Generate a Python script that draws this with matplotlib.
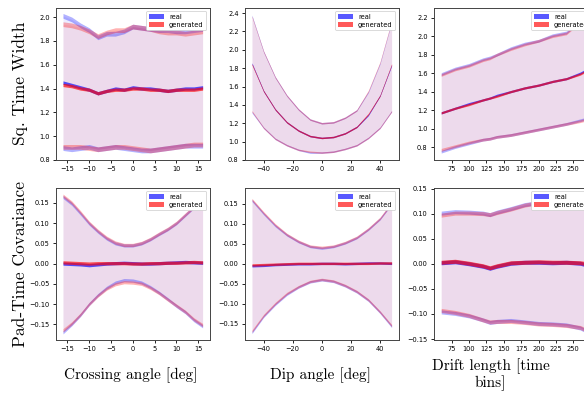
import numpy as np
import matplotlib
matplotlib.use("Agg")
import matplotlib.pyplot as plt

# ---- data: crossing angle ----
cross_x = [-16, -14, -12, -10, -8, -6, -4, -2, 0, 2, 4, 6, 8, 10, 12, 14, 16]
# Sq. time width
tw_cross_mean_real = [1.45, 1.43, 1.41, 1.39, 1.36, 1.38, 1.40, 1.39, 1.41, 1.40, 1.40, 1.39, 1.38, 1.39, 1.40, 1.40, 1.41]
tw_cross_mean_gen = [1.43, 1.42, 1.40, 1.39, 1.36, 1.38, 1.39, 1.39, 1.40, 1.40, 1.39, 1.39, 1.38, 1.39, 1.39, 1.39, 1.40]
tw_cross_up_real = [2.01, 1.98, 1.93, 1.89, 1.83, 1.86, 1.86, 1.88, 1.92, 1.91, 1.90, 1.89, 1.89, 1.88, 1.88, 1.89, 1.90]
tw_cross_up_gen = [1.94, 1.93, 1.91, 1.88, 1.84, 1.87, 1.89, 1.89, 1.92, 1.91, 1.90, 1.88, 1.87, 1.87, 1.86, 1.87, 1.88]
tw_cross_lo_real = [0.90, 0.89, 0.90, 0.91, 0.89, 0.90, 0.91, 0.90, 0.89, 0.88, 0.88, 0.89, 0.90, 0.91, 0.92, 0.92, 0.92]
tw_cross_lo_gen = [0.91, 0.91, 0.91, 0.90, 0.89, 0.90, 0.91, 0.91, 0.90, 0.89, 0.88, 0.89, 0.90, 0.91, 0.92, 0.93, 0.93]
# pad-time covariance
cv_cross_mean_real = [0.000, -0.001, -0.002, -0.004, -0.002, 0.000, 0.001, 0.002, 0.001, 0.000, 0.000, 0.001, 0.002, 0.003, 0.004, 0.003, 0.002]
cv_cross_mean_gen = [0.003, 0.002, 0.001, 0.000, 0.001, 0.001, 0.001, 0.001, 0.000, 0.000, 0.001, 0.001, 0.002, 0.002, 0.003, 0.004, 0.003]
cv_cross_up_real = [0.165, 0.148, 0.124, 0.099, 0.079, 0.062, 0.050, 0.045, 0.045, 0.050, 0.060, 0.073, 0.085, 0.100, 0.120, 0.140, 0.163]
cv_cross_up_gen = [0.168, 0.151, 0.127, 0.101, 0.081, 0.064, 0.052, 0.046, 0.046, 0.051, 0.061, 0.074, 0.086, 0.101, 0.121, 0.141, 0.165]
cv_cross_lo_real = [-0.170, -0.150, -0.127, -0.100, -0.078, -0.060, -0.047, -0.041, -0.042, -0.047, -0.058, -0.072, -0.088, -0.105, -0.120, -0.140, -0.155]
cv_cross_lo_gen = [-0.165, -0.148, -0.126, -0.100, -0.079, -0.062, -0.051, -0.046, -0.047, -0.050, -0.060, -0.073, -0.089, -0.104, -0.119, -0.138, -0.152]

# ---- data: dip angle ----
dip_x = [-48, -40, -32, -24, -16, -8, 0, 8, 16, 24, 32, 40, 48]
tw_dip_mean_real = [1.85, 1.55, 1.35, 1.21, 1.12, 1.06, 1.04, 1.05, 1.09, 1.16, 1.29, 1.50, 1.83]
tw_dip_mean_gen = [1.84, 1.55, 1.35, 1.21, 1.12, 1.06, 1.04, 1.05, 1.09, 1.16, 1.30, 1.50, 1.84]
tw_dip_up_real = [2.37, 1.98, 1.70, 1.50, 1.35, 1.24, 1.20, 1.21, 1.26, 1.34, 1.54, 1.85, 2.30]
tw_dip_up_gen = [2.36, 1.98, 1.70, 1.50, 1.35, 1.24, 1.20, 1.21, 1.26, 1.34, 1.55, 1.86, 2.31]
tw_dip_lo_real = [1.32, 1.15, 1.03, 0.96, 0.91, 0.88, 0.88, 0.89, 0.92, 0.96, 1.04, 1.15, 1.33]
tw_dip_lo_gen = [1.33, 1.15, 1.03, 0.96, 0.91, 0.89, 0.88, 0.89, 0.92, 0.96, 1.04, 1.15, 1.33]
cv_dip_mean_real = [-0.005, -0.004, -0.002, -0.001, 0.000, 0.000, 0.001, 0.001, 0.000, 0.001, 0.002, 0.002, 0.001]
cv_dip_mean_gen = [-0.003, -0.002, -0.001, 0.000, 0.001, 0.001, 0.001, 0.001, 0.001, 0.001, 0.001, 0.002, 0.002]
cv_dip_up_real = [0.158, 0.125, 0.095, 0.072, 0.055, 0.043, 0.039, 0.043, 0.052, 0.065, 0.086, 0.112, 0.150]
cv_dip_up_gen = [0.160, 0.127, 0.097, 0.073, 0.056, 0.044, 0.041, 0.044, 0.053, 0.066, 0.087, 0.113, 0.151]
cv_dip_lo_real = [-0.171, -0.131, -0.101, -0.076, -0.058, -0.045, -0.040, -0.044, -0.055, -0.070, -0.091, -0.121, -0.156]
cv_dip_lo_gen = [-0.168, -0.129, -0.099, -0.074, -0.057, -0.044, -0.039, -0.043, -0.054, -0.069, -0.090, -0.120, -0.154]

# ---- data: drift length ----
drift_x = [60, 80, 100, 120, 130, 140, 160, 180, 200, 220, 240, 260, 270]
tw_drift_mean_real = [1.17, 1.22, 1.27, 1.31, 1.33, 1.36, 1.40, 1.44, 1.47, 1.51, 1.54, 1.60, 1.64]
tw_drift_mean_gen = [1.17, 1.22, 1.26, 1.31, 1.33, 1.35, 1.40, 1.44, 1.47, 1.51, 1.54, 1.59, 1.63]
tw_drift_up_real = [1.59, 1.65, 1.69, 1.75, 1.77, 1.80, 1.87, 1.92, 1.95, 2.01, 2.04, 2.17, 2.22]
tw_drift_up_gen = [1.58, 1.64, 1.68, 1.74, 1.76, 1.80, 1.86, 1.91, 1.95, 2.00, 2.03, 2.16, 2.21]
tw_drift_lo_real = [0.75, 0.80, 0.84, 0.88, 0.89, 0.91, 0.93, 0.96, 0.99, 1.02, 1.05, 1.09, 1.11]
tw_drift_lo_gen = [0.77, 0.81, 0.85, 0.88, 0.89, 0.91, 0.93, 0.96, 0.99, 1.02, 1.05, 1.08, 1.10]
cv_drift_mean_real = [0.002, 0.004, 0.000, -0.005, -0.009, -0.005, 0.001, 0.003, 0.003, 0.002, 0.003, 0.001, -0.003]
cv_drift_mean_gen = [0.003, 0.005, 0.001, -0.004, -0.008, -0.004, 0.002, 0.003, 0.004, 0.003, 0.003, 0.002, 0.000]
cv_drift_up_real = [0.101, 0.104, 0.103, 0.101, 0.098, 0.103, 0.110, 0.118, 0.122, 0.126, 0.128, 0.131, 0.133]
cv_drift_up_gen = [0.097, 0.101, 0.101, 0.100, 0.098, 0.102, 0.109, 0.117, 0.122, 0.126, 0.128, 0.131, 0.134]
cv_drift_lo_real = [-0.096, -0.099, -0.104, -0.112, -0.117, -0.115, -0.113, -0.116, -0.119, -0.120, -0.122, -0.128, -0.135]
cv_drift_lo_gen = [-0.093, -0.097, -0.103, -0.112, -0.116, -0.115, -0.115, -0.117, -0.120, -0.121, -0.123, -0.127, -0.133]

# half-width of the uncertainty bands (mean curve, spread curves)
tw_err = {"cross": (0.014, 0.02), "dip": (0.008, 0.008), "drift": (0.012, 0.015)}
cv_err = {"cross": (0.004, 0.004), "dip": (0.003, 0.003), "drift": (0.004, 0.004)}

row_labels = ["Sq. Time Width", "Pad-Time Covariance"]
col_labels = ["Crossing angle [deg]", "Dip angle [deg]", "Drift length [time\nbins]"]

panels = [
    [("cross", cross_x, tw_cross_mean_real, tw_cross_mean_gen, tw_cross_up_real, tw_cross_up_gen, tw_cross_lo_real, tw_cross_lo_gen),
     ("dip", dip_x, tw_dip_mean_real, tw_dip_mean_gen, tw_dip_up_real, tw_dip_up_gen, tw_dip_lo_real, tw_dip_lo_gen),
     ("drift", drift_x, tw_drift_mean_real, tw_drift_mean_gen, tw_drift_up_real, tw_drift_up_gen, tw_drift_lo_real, tw_drift_lo_gen)],
    [("cross", cross_x, cv_cross_mean_real, cv_cross_mean_gen, cv_cross_up_real, cv_cross_up_gen, cv_cross_lo_real, cv_cross_lo_gen),
     ("dip", dip_x, cv_dip_mean_real, cv_dip_mean_gen, cv_dip_up_real, cv_dip_up_gen, cv_dip_lo_real, cv_dip_lo_gen),
     ("drift", drift_x, cv_drift_mean_real, cv_drift_mean_gen, cv_drift_up_real, cv_drift_up_gen, cv_drift_lo_real, cv_drift_lo_gen)],
]
errs = [tw_err, cv_err]

xticks = [np.arange(-15, 16, 5), np.arange(-40, 41, 20), np.arange(75, 251, 25)]
ylims = [[(0.8, 2.08), (0.8, 2.46), None],
         [(-0.189, 0.188), (-0.19, 0.19), (-0.152, 0.152)]]
yticks = [[np.arange(0.8, 2.01, 0.2), np.arange(0.8, 2.41, 0.2), np.arange(0.8, 2.21, 0.2)],
          [np.arange(-0.15, 0.151, 0.05)] * 3]

fig = plt.figure(figsize=(5.84, 3.96), dpi=100)
lefts = [0.0959, 0.4195, 0.743]
widths = [0.263, 0.263, 0.275]
bottoms = [0.596, 0.1414]
H = 0.385

for r in range(2):
    for c in range(3):
        ax = fig.add_axes([lefts[c], bottoms[r], widths[c], H])
        key, x, m_r, m_g, u_r, u_g, l_r, l_g = panels[r][c]
        x = np.array(x)
        em, es = errs[r][key]
        # spread region
        ax.fill_between(x, l_r, u_r, color="blue", alpha=0.075, lw=0)
        ax.fill_between(x, l_g, u_g, color="red", alpha=0.075, lw=0)
        # curves with uncertainty bands
        for arr, col, e, a, lab in [(u_r, "blue", es, 0.3, None), (l_r, "blue", es, 0.3, None),
                                    (m_r, "blue", em, 0.65, "real"),
                                    (u_g, "red", es, 0.3, None), (l_g, "red", es, 0.3, None),
                                    (m_g, "red", em, 0.65, "generated")]:
            arr = np.array(arr)
            ax.fill_between(x, arr - e, arr + e, color=col, alpha=a, lw=0, label=lab)
        ax.set_xticks(xticks[c])
        ax.set_yticks(yticks[r][c])
        if ylims[r][c] is not None:
            ax.set_ylim(*ylims[r][c])
        ax.tick_params(labelsize=4.8, length=2.5, width=0.6, pad=2)
        for s in ax.spines.values():
            s.set_linewidth(0.7)
            s.set_color("#444444")
        leg = ax.legend(loc="upper right", fontsize=4.8, handlelength=2.2, handleheight=0.8,
                        borderpad=0.4, labelspacing=0.3, framealpha=1, edgecolor="#cccccc")
        leg.get_frame().set_linewidth(0.5)

fig.text(0.035, bottoms[0] + H / 2, row_labels[0], rotation=90, ha="center", va="center",
         family="cmr10", fontsize=12.5)
fig.text(0.035, bottoms[1] + H / 2, row_labels[1], rotation=90, ha="center", va="center",
         family="cmr10", fontsize=12.5)
fig.text(0.223, 0.053, col_labels[0], ha="center", va="center", family="cmr10", fontsize=11)
fig.text(0.548, 0.053, col_labels[1], ha="center", va="center", family="cmr10", fontsize=11)
fig.text(0.84, 0.053, col_labels[2], ha="center", va="center", family="cmr10", fontsize=11,
         linespacing=1.1)

fig.savefig("out.png", dpi=100)
